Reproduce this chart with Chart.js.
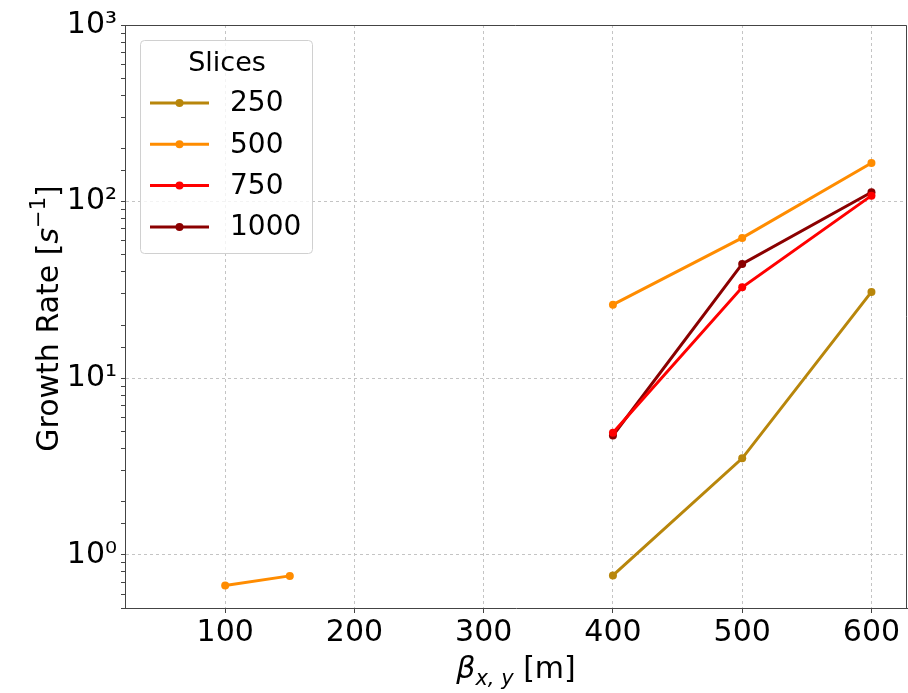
<!DOCTYPE html>
<html>
<head>
<meta charset="utf-8">
<script src="https://cdn.jsdelivr.net/npm/chart.js@4/dist/chart.umd.min.js"></script>
<style>
  html, body { margin: 0; padding: 0; background: #fff; }
  #wrap { width: 908px; height: 693px; }
</style>
</head>
<body>
<div id="wrap"><canvas id="myChartGrowth" width="908" height="693"></canvas></div>
<script>
// beta_{x,y} en metros (50, 200 y 300 sin datos)
const betaValues = [50, 100, 150, 200, 300, 400, 500, 600];
const xTicks = [100, 200, 300, 400, 500, 600];

// tasa de crecimiento [1/s] por numero de slices
const rate250 = [null, null, null, null, null, 0.764, 3.52, 30.8];
const rate500 = [null, 0.67, 0.76, null, null, 26.1, 62.3, 165.6];
const rate750 = [null, null, null, null, null, 4.91, 32.7, 108.1];
const rate1000 = [null, null, null, null, null, 4.74, 44.4, 112.9];

const sliceLabels = ['250', '500', '750', '1000'];
const sliceColors = ['#b8860b', '#ff8c00', '#ff0000', '#8b0000'];
const sliceRates = [rate250, rate500, rate750, rate1000];

const FONT = "'DejaVu Sans', sans-serif";
const sup = { '0': '\u2070', '1': '\u00b9', '2': '\u00b2', '3': '\u00b3' };

function isPow10(v) {
    const l = Math.log10(v);
    return Math.abs(l - Math.round(l)) < 1e-9;
}

// marco superior/derecho, leyenda y titulos de ejes
const extras = {
    id: 'extras',
    afterDraw(chart) {
        const ctx = chart.ctx;
        const a = chart.chartArea;
        ctx.save();
        ctx.strokeStyle = '#444';
        ctx.lineWidth = 1;
        ctx.beginPath();
        ctx.moveTo(a.left, a.top + 0.5);
        ctx.lineTo(a.right - 0.5, a.top + 0.5);
        ctx.lineTo(a.right - 0.5, a.bottom);
        ctx.stroke();

        // leyenda
        const lx = a.left + 15, ly = a.top + 15, lw = 172, lh = 213;
        ctx.beginPath();
        ctx.roundRect(lx + 0.5, ly + 0.5, lw, lh, 4);
        ctx.fillStyle = 'rgba(255,255,255,0.8)';
        ctx.fill();
        ctx.strokeStyle = '#d0d0d0';
        ctx.stroke();
        ctx.fillStyle = '#000';
        ctx.font = '27px ' + FONT;
        ctx.textAlign = 'center';
        ctx.textBaseline = 'middle';
        ctx.fillText('Slices', lx + 87, ly + 24);
        ctx.textAlign = 'left';
        chart.data.datasets.forEach((ds, i) => {
            const y = ly + 63 + i * 41.3;
            ctx.strokeStyle = ds.borderColor;
            ctx.lineWidth = 3;
            ctx.beginPath();
            ctx.moveTo(lx + 10, y);
            ctx.lineTo(lx + 69, y);
            ctx.stroke();
            ctx.fillStyle = ds.borderColor;
            ctx.beginPath();
            ctx.arc(lx + 39.5, y, 4, 0, Math.PI * 2);
            ctx.fill();
            ctx.fillStyle = '#000';
            ctx.font = '28px ' + FONT;
            ctx.fillText(ds.label, lx + 90, y + 1);
        });

        // titulo eje y: Growth Rate [s^-1]
        ctx.save();
        ctx.translate(47, (a.top + a.bottom) / 2 + 2);
        ctx.rotate(-Math.PI / 2);
        ctx.textBaseline = 'alphabetic';
        const parts = [
            { t: 'Growth Rate [', f: '30px ' + FONT, dy: 0 },
            { t: 's', f: 'italic 30px ' + FONT, dy: 0 },
            { t: '\u22121', f: '21px ' + FONT, dy: -13 },
            { t: ']', f: '30px ' + FONT, dy: 0 }
        ];
        let total = 0;
        parts.forEach(p => { ctx.font = p.f; p.w = ctx.measureText(p.t).width; total += p.w; });
        let px = -total / 2;
        parts.forEach(p => {
            ctx.font = p.f;
            ctx.fillText(p.t, px, 11 + p.dy);
            px += p.w;
        });
        ctx.restore();

        // titulo eje x: beta_{x,y} [m]
        const xp = [
            { t: '\u03b2', f: 'italic 30px ' + FONT, dy: 0 },
            { t: 'x, y', f: 'italic 21px ' + FONT, dy: 7 },
            { t: ' [m]', f: '30px ' + FONT, dy: 0 }
        ];
        let tw = 0;
        xp.forEach(p => { ctx.font = p.f; p.w = ctx.measureText(p.t).width; tw += p.w; });
        let qx = (a.left + a.right) / 2 - tw / 2;
        ctx.textAlign = 'left';
        ctx.textBaseline = 'alphabetic';
        xp.forEach(p => {
            ctx.font = p.f;
            ctx.fillText(p.t, qx, 678 + p.dy);
            qx += p.w;
        });
        ctx.restore();
    }
};

const ctx = document.getElementById('myChartGrowth').getContext('2d');
new Chart(ctx, {
    type: 'line',
    data: {
        labels: betaValues,
        datasets: sliceRates.map((r, i) => ({
            label: sliceLabels[i],
            data: betaValues.map((b, j) => ({ x: b, y: r[j] })),
            borderColor: sliceColors[i],
            backgroundColor: sliceColors[i],
            pointBackgroundColor: sliceColors[i],
            pointBorderWidth: 0,
            pointRadius: 4,
            borderWidth: 3,
            spanGaps: false,
            tension: 0
        }))
    },
    options: {
        responsive: false,
        animation: false,
        layout: { autoPadding: false, padding: { top: 25, right: 1, left: 0, bottom: 0 } },
        plugins: { legend: { display: false }, tooltip: { enabled: false } },
        scales: {
            x: {
                type: 'linear',
                min: 22.5,
                max: 627.5,
                afterBuildTicks: s => { s.ticks = xTicks.map(v => ({ value: v })); },
                afterFit: s => { s.height = 85; },
                ticks: { color: '#000', font: { family: FONT, size: 30 }, padding: 2, maxRotation: 0 },
                grid: { color: '#c4c4c4', tickColor: '#444', tickLength: 5, tickBorderDash: [] },
                border: { color: '#444', width: 1, dash: [3, 3] }
            },
            y: {
                type: 'logarithmic',
                min: 0.5,
                max: 1000,
                afterFit: s => { s.width = 125; },
                ticks: {
                    color: '#000',
                    autoSkip: false,
                    padding: 4,
                    font: { family: FONT, size: 30 },
                    callback: v => isPow10(v) ? '10' + sup[String(Math.round(Math.log10(v)))] : ''
                },
                grid: {
                    color: c => (c.tick && isPow10(c.tick.value)) ? '#c4c4c4' : 'rgba(0,0,0,0)',
                    tickColor: '#444',
                    tickLength: 4,
                    tickBorderDash: []
                },
                border: { color: '#444', width: 1, dash: [3, 3] }
            }
        }
    },
    plugins: [extras]
});
</script>
</body>
</html>
